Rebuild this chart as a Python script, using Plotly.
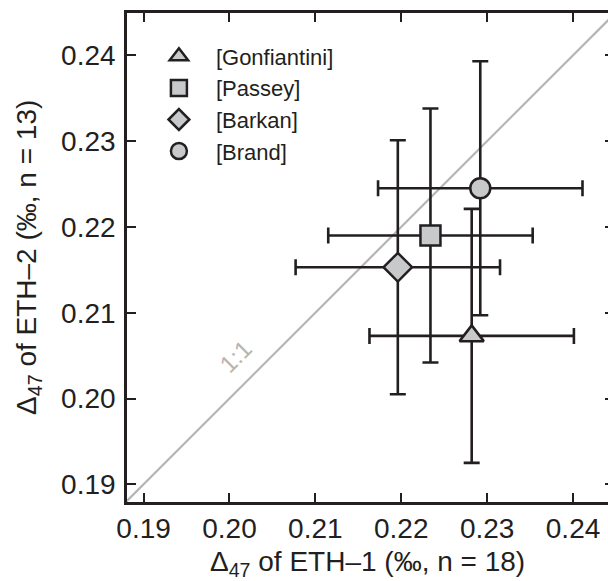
import plotly.graph_objects as go

# Clumped-isotope results for the two carbonate standards
labels = ["[Gonfiantini]", "[Passey]", "[Barkan]", "[Brand]"]
eth1 = [0.2282, 0.2234, 0.2196, 0.2292]          # Δ47 of ETH-1 (‰)
eth1_err = [0.0119, 0.0119, 0.0119, 0.0119]
eth2 = [0.2073, 0.2190, 0.2153, 0.2245]          # Δ47 of ETH-2 (‰)
eth2_err = [0.0148, 0.0148, 0.0148, 0.0148]
symbols = ["triangle-up", "square", "diamond", "circle"]
sizes = [21, 20, 22, 20]

tick_vals = [0.19, 0.20, 0.21, 0.22, 0.23, 0.24]
tick_text = ["0.19", "0.20", "0.21", "0.22", "0.23", "0.24"]

x_range = [0.18807, 0.24407]
y_range = [0.18794, 0.24493]

ink = "#231f20"
fill = "#c8c9cb"
grey_line = "#b5b5b5"
font_family = "Liberation Sans, Arial, Helvetica, sans-serif"

fig = go.Figure()

# 1:1 reference line
one_to_one = [0.18, 0.25]
fig.add_trace(go.Scatter(
    x=one_to_one, y=one_to_one, mode="lines",
    line=dict(color=grey_line, width=2.2), showlegend=False, hoverinfo="skip",
))

for lab, x, ex, y, ey, sym, sz in zip(labels, eth1, eth1_err, eth2, eth2_err, symbols, sizes):
    fig.add_trace(go.Scatter(
        x=[x], y=[y], mode="markers", name=lab, legendgroup=lab,
        marker=dict(symbol=sym, size=sz, color=fill, line=dict(color=ink, width=2.5)),
        error_x=dict(type="constant", value=ex, color=ink, thickness=2.6, width=8),
        error_y=dict(type="constant", value=ey, color=ink, thickness=2.6, width=8),
    ))

# right-hand tick marks
fig.add_trace(go.Scatter(x=[None], y=[None], yaxis="y2", showlegend=False, hoverinfo="skip"))

axis_common = dict(
    showgrid=False, zeroline=False, showline=True, linecolor=ink, linewidth=2.6,
    ticks="inside", ticklen=9, tickwidth=2.4, tickcolor=ink,
    tickvals=tick_vals, ticktext=tick_text,
    tickfont=dict(family=font_family, size=28, color=ink),
)

fig.update_layout(
    width=608, height=581,
    margin=dict(l=127, r=0, t=13, b=79),
    paper_bgcolor="white", plot_bgcolor="white",
    font=dict(family=font_family, color=ink),
    xaxis=dict(range=x_range, mirror="ticks", **axis_common),
    yaxis=dict(range=y_range, mirror=False, ticklabelstandoff=3, **axis_common),
    yaxis2=dict(range=y_range, overlaying="y", side="right", showline=False,
                showgrid=False, zeroline=False, ticks="inside", ticklen=3,
                tickwidth=2.4, tickcolor=ink, tickvals=tick_vals, showticklabels=False),
    legend=dict(
        x=0.031, y=0.954, xanchor="left", yanchor="top",
        bgcolor="rgba(0,0,0,0)", font=dict(family=font_family, size=22, color=ink),
        itemwidth=64, tracegroupgap=0, traceorder="grouped",
    ),
    showlegend=True,
    annotations=[
        dict(text="Δ<sub>47</sub> of ETH–1 (‰, n = 18)", xref="paper", yref="paper",
             x=0.5, y=-0.125, xanchor="center", yanchor="middle", showarrow=False,
             font=dict(family=font_family, size=28, color=ink)),
        dict(text="Δ<sub>47</sub> of ETH–2 (‰, n = 13)", xref="paper", yref="paper",
             x=-0.205, y=0.5, xanchor="center", yanchor="middle", showarrow=False,
             textangle=-90, font=dict(family=font_family, size=28, color=ink)),
        dict(text="1:1", x=0.2007, y=0.2049, xref="x", yref="y", showarrow=False,
             textangle=-45, font=dict(family=font_family, size=24, color=grey_line)),
    ],
)

fig.write_html("out.html")
